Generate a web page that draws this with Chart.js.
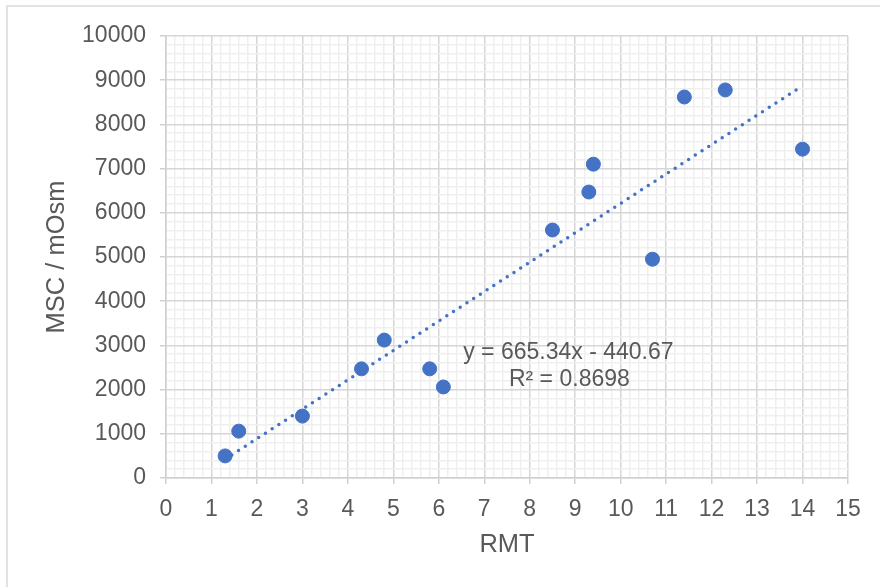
<!DOCTYPE html>
<html>
<head>
<meta charset="utf-8">
<script src="https://cdn.jsdelivr.net/npm/chart.js@4.4.1/dist/chart.umd.min.js"></script>
<style>
    html, body { margin: 0; padding: 0; background: #ffffff; }
    #wrap { width: 880px; height: 587px; position: relative; }
</style>
</head>
<body>
<div id="wrap"><canvas id="scatterChart"></canvas></div>
<script>
// values
const rmtValues = [1.3, 1.6, 3.0, 4.3, 4.8, 5.8, 6.1, 8.5, 9.3, 9.4, 10.7, 11.4, 12.3, 14.0];
const mscValues = [500, 1060, 1400, 2470, 3120, 2470, 2060, 5610, 6470, 7100, 4950, 8620, 8780, 7440];

// linear trendline as printed on the chart
const trendSlope = 665.34;
const trendIntercept = -440.67;
const trendLabel = ["y = 665.34x - 440.67", "R\u00b2 = 0.8698"];

const xTicks = { min: 0, max: 15, major: 1, minor: 0.2 };
const yTicks = { min: 0, max: 10000, major: 1000, minor: 200 };

const axisTitleX = "RMT";
const axisTitleY = "MSC / mOsm";

const textColor = "#595959";
const fontFamily = "'Liberation Sans', Arial, sans-serif";

function isMajor(value, step){
    let r = value / step;
    return Math.abs(r - Math.round(r)) < 1e-6;
}

let points = rmtValues.map((x, i) => ({ x: x, y: mscValues[i] }));
let trendX = [Math.min(...rmtValues), Math.max(...rmtValues)];
let trendPoints = trendX.map(x => ({ x: x, y: trendSlope * x + trendIntercept }));

// frame round the chart + the equation label
const extrasPlugin = {
    id: 'extras',
    beforeDraw(chart){
        let ctx = chart.ctx;
        ctx.save();
        ctx.strokeStyle = "#d9d9d9";
        ctx.lineWidth = 1.5;
        ctx.strokeRect(7, 6, 900, 600);
        ctx.restore();
    },
    afterDraw(chart){
        let ctx = chart.ctx;
        let xs = chart.scales.x, ys = chart.scales.y;
        let cx = xs.getPixelForValue(8.85);
        let cy = ys.getPixelForValue(2830);
        ctx.save();
        ctx.fillStyle = textColor;
        ctx.font = "23px " + fontFamily;
        ctx.textAlign = "center";
        ctx.textBaseline = "middle";
        trendLabel.forEach((line, i) => {
            ctx.fillText(line, cx + i * 1, cy + i * 27);
        });
        ctx.restore();
    }
};

function gridOptions(step){
    return {
        color: c => isMajor(c.tick.value, step) ? "#d6d6d6" : "#efefef",
        lineWidth: 1.5,
        tickColor: c => isMajor(c.tick.value, step) ? "#d0d0d0" : "rgba(0,0,0,0)",
        tickLength: 6,
        drawTicks: true,
    };
}

let config = {
    type: "scatter",
    data: {
        datasets: [
            {
                label: "Trend",
                type: "line",
                data: trendPoints,
                borderColor: "#4472C4",
                borderWidth: 3.5,
                borderDash: [0, 8],
                borderCapStyle: "round",
                pointRadius: 0,
                fill: false,
                order: 0,
            },
            {
                label: "MSC",
                data: points,
                backgroundColor: "#4472C4",
                borderColor: "#4472C4",
                pointRadius: 7,
                pointHoverRadius: 7,
                order: 1,
            },
        ],
    },
    options: {
        responsive: true,
        maintainAspectRatio: false,
        animation: false,
        layout: {
            padding: { left: 38, right: 32, top: 36, bottom: 23 },
        },
        plugins: {
            legend: { display: false },
            tooltip: { enabled: false },
        },
        scales: {
            x: {
                type: "linear",
                min: xTicks.min,
                max: xTicks.max,
                afterFit: s => { s.height = 86; },
                grid: gridOptions(xTicks.major),
                border: { display: true, color: "#d0d0d0", width: 1.5 },
                ticks: {
                    stepSize: xTicks.minor,
                    maxTicksLimit: 1000,
                    autoSkip: false,
                    maxRotation: 0,
                    minRotation: 0,
                    padding: 12,
                    color: textColor,
                    font: { family: fontFamily, size: 23 },
                    callback: v => isMajor(v, xTicks.major) ? String(Math.round(v)) : "",
                },
                title: {
                    display: true,
                    text: axisTitleX,
                    color: textColor,
                    font: { family: fontFamily, size: 25.5 },
                },
            },
            y: {
                type: "linear",
                min: yTicks.min,
                max: yTicks.max,
                afterFit: s => { s.width = 128; },
                grid: gridOptions(yTicks.major),
                border: { display: true, color: "#d0d0d0", width: 1.5 },
                ticks: {
                    stepSize: yTicks.minor,
                    maxTicksLimit: 1000,
                    autoSkip: false,
                    padding: 14,
                    color: textColor,
                    font: { family: fontFamily, size: 23 },
                    callback: v => isMajor(v, yTicks.major) ? String(Math.round(v)) : "",
                },
                title: {
                    display: true,
                    text: axisTitleY,
                    color: textColor,
                    font: { family: fontFamily, size: 25.5 },
                },
            },
        },
    },
    plugins: [extrasPlugin],
};

window.scatterChart = new Chart(document.getElementById("scatterChart").getContext("2d"), config);
</script>
</body>
</html>
